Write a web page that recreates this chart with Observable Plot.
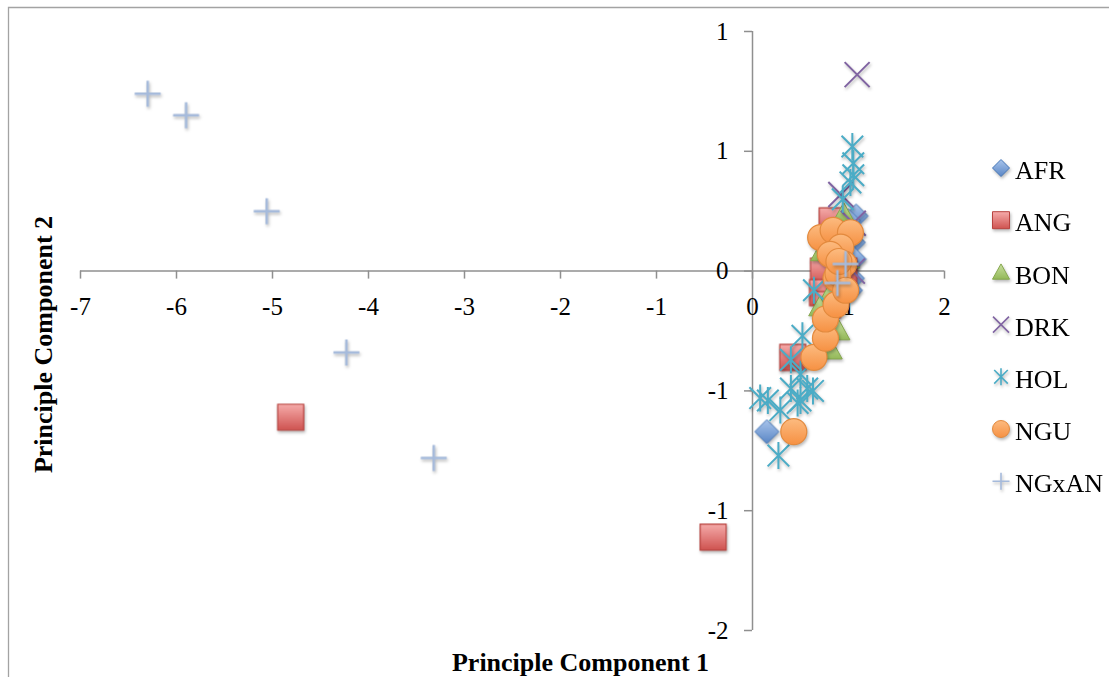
<!DOCTYPE html>
<html>
<head>
<meta charset="utf-8">
<script src="https://cdn.jsdelivr.net/npm/d3@7"></script>
<script src="https://cdn.jsdelivr.net/npm/@observablehq/plot@0.6"></script>
<style>
  html, body { margin: 0; padding: 0; background: #fff; overflow: hidden; }
  #chart { position: relative; width: 1109px; height: 677px; }
  #chart svg { display: block; }
  #chart svg text { font-family: 'Liberation Serif', 'Times New Roman', serif !important; font-variant: normal !important; }
  #chart g[aria-label="dot"], #chart .legend-marker { filter: drop-shadow(1.5px 2px 1.5px rgba(0,0,0,0.28)); }
</style>
</head>
<body>
<!-- gradient fills for the filled markers -->
<svg width="0" height="0" style="position:absolute">
  <defs>
    <linearGradient id="fill-afr" x1="0" y1="0" x2="0" y2="1">
      <stop offset="0" stop-color="#a9c5ec"/><stop offset="1" stop-color="#5a86c5"/>
    </linearGradient>
    <linearGradient id="fill-ang" x1="0" y1="0" x2="0" y2="1">
      <stop offset="0" stop-color="#f5abaa"/><stop offset="1" stop-color="#cf5350"/>
    </linearGradient>
    <linearGradient id="fill-bon" x1="0" y1="0" x2="0" y2="1">
      <stop offset="0" stop-color="#c9e0a0"/><stop offset="1" stop-color="#93b858"/>
    </linearGradient>
    <linearGradient id="fill-ngu" x1="0" y1="0" x2="0" y2="1">
      <stop offset="0" stop-color="#fcbb80"/><stop offset="1" stop-color="#f69143"/>
    </linearGradient>
  </defs>
</svg>
<div id="chart"></div>
<script>
// ---- data: principal component scores per breed ----
const seriesNames = ["AFR", "ANG", "BON", "DRK", "HOL", "NGU", "NGxAN"];

const afrPC1 = [0.15, 1.08, 1.0, 1.05, 1.06, 1.04, 1.02];
const afrPC2 = [-0.67, 0.23, 0.21, 0.12, 0.05, -0.03, -0.08];

const angPC1 = [-4.81, -0.41, 0.42, 0.83, 0.74, 0.73, 0.95, 0.78];
const angPC2 = [-0.61, -1.11, -0.36, 0.21, 0.0, -0.09, 0.0, -0.14];

const bonPC1 = [0.95, 0.72, 0.80, 0.90, 0.82, 0.70, 1.0, 0.88];
const bonPC2 = [0.24, 0.08, -0.10, -0.25, -0.33, -0.15, 0.05, 0.14];

const drkPC1 = [1.09, 0.92, 1.05, 1.04];
const drkPC2 = [0.82, 0.32, 0.20, 0.0];

const holPC1 = [1.04, 1.05, 1.05, 1.02, 0.94, 0.64, 0.52, 0.40, 0.50, 0.40, 0.57, 0.63, 0.50, 0.47, 0.16, 0.08, 0.29, 0.27];
const holPC2 = [0.52, 0.45, 0.40, 0.37, 0.30, -0.08, -0.27, -0.37, -0.43, -0.49, -0.49, -0.50, -0.54, -0.55, -0.54, -0.53, -0.58, -0.77];

const nguPC1 = [0.43, 0.64, 0.76, 0.76, 0.87, 0.87, 0.71, 0.84, 1.02, 0.92, 0.95, 0.81, 0.89, 0.97, 0.90];
const nguPC2 = [-0.67, -0.36, -0.28, -0.20, -0.14, -0.03, 0.14, 0.17, 0.16, 0.10, 0.03, 0.07, -0.01, -0.08, 0.04];

const ngxanPC1 = [-6.30, -5.90, -5.06, -4.23, -3.32, 0.97, 0.885];
const ngxanPC2 = [0.74, 0.65, 0.25, -0.34, -0.78, 0.03, -0.05];

const xTicks = [-7, -6, -5, -4, -3, -2, -1, 0, 1, 2];
const xTickLabels = ["-7", "-6", "-5", "-4", "-3", "-2", "-1", "0", "1", "2"];
const yTicks = [1, 0.5, 0, -0.5, -1, -1.5];
const yTickLabels = ["1", "1", "0", "-1", "-1", "-2"];

const xTitle = "Principle Component 1";
const yTitle = "Principle Component 2";

// ---- marker shapes (half-size taken from the dot radius) ----
const half = s => Math.sqrt(s / Math.PI);
const symbols = {
  diamond: { draw(c, s) { const h = half(s); c.moveTo(0, -h); c.lineTo(h, 0); c.lineTo(0, h); c.lineTo(-h, 0); c.closePath(); } },
  square: { draw(c, s) { const h = half(s); c.moveTo(-h, -h); c.lineTo(h, -h); c.lineTo(h, h); c.lineTo(-h, h); c.closePath(); } },
  triangle: { draw(c, s) { const h = half(s); c.moveTo(0, -h); c.lineTo(h, h * 0.8); c.lineTo(-h, h * 0.8); c.closePath(); } },
  times: { draw(c, s) { const h = half(s); c.moveTo(-h, -h); c.lineTo(h, h); c.moveTo(-h, h); c.lineTo(h, -h); } },
  star: { draw(c, s) { const h = half(s), k = h * 0.8; c.moveTo(-k, -k); c.lineTo(k, k); c.moveTo(-k, k); c.lineTo(k, -k); c.moveTo(0, -h); c.lineTo(0, h); } },
  circle: { draw(c, s) { const h = half(s); c.moveTo(h, 0); c.arc(0, 0, h, 0, 2 * Math.PI); c.closePath(); } },
  plus: { draw(c, s) { const h = half(s); c.moveTo(-h, 0); c.lineTo(h, 0); c.moveTo(0, -h); c.lineTo(0, h); } }
};

// ---- per-series appearance ----
const looks = {
  AFR:   { symbol: symbols.diamond,  r: 12,   lr: 8.5, fill: "url(#fill-afr)", stroke: "#4677b8", strokeWidth: 1 },
  ANG:   { symbol: symbols.square,   r: 13,   lr: 8.5, fill: "url(#fill-ang)", stroke: "#b8433f", strokeWidth: 1.2 },
  BON:   { symbol: symbols.triangle, r: 11,   lr: 8.5, fill: "url(#fill-bon)", stroke: "#86a74e", strokeWidth: 1 },
  DRK:   { symbol: symbols.times,    r: 12.5, lr: 8,   fill: "none", stroke: "#8064a2", strokeWidth: 2 },
  HOL:   { symbol: symbols.star,     r: 13.5, lr: 8.5, fill: "none", stroke: "#4bacc6", strokeWidth: 2 },
  NGU:   { symbol: symbols.circle,   r: 13,   lr: 8.5, fill: "url(#fill-ngu)", stroke: "#e38a3e", strokeWidth: 1.2 },
  NGxAN: { symbol: symbols.plus,     r: 13,   lr: 8.5, fill: "none", stroke: "#a5badb", strokeWidth: 2.5 }
};

const seriesData = {
  AFR: [afrPC1, afrPC2], ANG: [angPC1, angPC2], BON: [bonPC1, bonPC2], DRK: [drkPC1, drkPC2],
  HOL: [holPC1, holPC2], NGU: [nguPC1, nguPC2], NGxAN: [ngxanPC1, ngxanPC2]
};
const rows = name => seriesData[name][0].map((v, i) => ({ breed: name, pc1: v, pc2: seriesData[name][1][i] }));

// ---- layout ----
const W = 1109, H = 677;
const mL = 80, mR = 165, mT = 31, mB = 47;
const xDomain = [-7, 2], yDomain = [-1.5, 1];
const innerW = W - mL - mR, innerH = H - mT - mB;
const xZero = (0 - xDomain[0]) / (xDomain[1] - xDomain[0]) * innerW;   // from left edge of frame
const yZero = (yDomain[1] - 0) / (yDomain[1] - yDomain[0]) * innerH;   // from top edge of frame
const axisGray = "#8f8f8f";
const font = "'Liberation Serif', 'Times New Roman', serif";

const plot = Plot.plot({
  width: W, height: H,
  marginLeft: mL, marginRight: mR, marginTop: mT, marginBottom: mB,
  style: { fontFamily: font, fontSize: "25px", color: "#000", background: "#fff" },
  x: { domain: xDomain },
  y: { domain: yDomain },
  marks: [
    // axes crossing at the origin
    Plot.ruleY([0], { stroke: axisGray, strokeWidth: 1.5 }),
    Plot.ruleX([0], { stroke: axisGray, strokeWidth: 1.5 }),
    Plot.axisX({
      ticks: xTicks, tickSize: 8, tickPadding: 18, dy: yZero - innerH,
      stroke: axisGray, strokeWidth: 1.5, label: null, fontSize: 25, fontFamily: font,
      tickFormat: d => xTickLabels[xTicks.indexOf(d)]
    }),
    Plot.axisY({
      ticks: yTicks, tickSize: 8, tickPadding: 16, dx: xZero,
      stroke: axisGray, strokeWidth: 1.5, label: null, fontSize: 25, fontFamily: font,
      tickFormat: d => yTickLabels[yTicks.indexOf(d)]
    }),
    // one dot layer per breed, later series drawn on top
    ...seriesNames.map(name => {
      const lk = looks[name];
      return Plot.dot(rows(name), {
        x: "pc1", y: "pc2", r: lk.r, symbol: lk.symbol,
        fill: lk.fill, stroke: lk.stroke, strokeWidth: lk.strokeWidth
      });
    }),
    // axis titles
    Plot.text([xTitle], {
      text: d => d, frameAnchor: "bottom", dx: 68, dy: 40, lineAnchor: "bottom", textAnchor: "middle",
      fontWeight: "bold", fontSize: 26, fontFamily: font
    }),
    Plot.text([yTitle], {
      text: d => d, frameAnchor: "left", rotate: -90, dx: -29, dy: 13.5, lineAnchor: "bottom", textAnchor: "middle",
      fontWeight: "bold", fontSize: 26, fontFamily: font
    })
  ]
});

const svg = d3.select(plot);

// outer chart border (left and top edges)
svg.append("path")
  .attr("d", `M8.5,${H} V7.5 H${W}`)
  .attr("fill", "none").attr("stroke", "#a3a3a3").attr("stroke-width", 1.3);

// legend
const legendX = 1001, legendY0 = 170, legendStep = 52.2;
const legend = svg.append("g").attr("font-family", font).attr("font-size", 26).attr("text-anchor", "start");
seriesNames.forEach((name, i) => {
  const lk = looks[name];
  const g = legend.append("g").attr("transform", `translate(${legendX},${legendY0 + i * legendStep})`);
  g.append("path")
    .attr("class", "legend-marker")
    .attr("transform", "translate(0,-2)")
    .attr("d", d3.symbol(lk.symbol, Math.PI * lk.lr * lk.lr)())
    .attr("fill", lk.fill).attr("stroke", lk.stroke)
    .attr("stroke-width", lk.fill === "none" ? 1.6 : 1);
  g.append("text").attr("x", 14).attr("dy", "0.35em").attr("text-anchor", "start").attr("fill", "#000").text(name);
});

document.getElementById("chart").appendChild(plot);
</script>
</body>
</html>
